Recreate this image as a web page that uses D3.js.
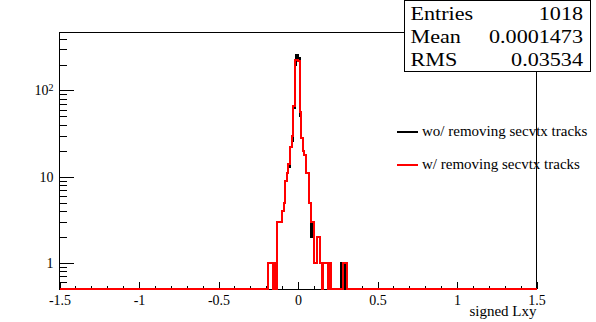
<!DOCTYPE html>
<html>
<head>
<meta charset="utf-8">
<script src="https://cdn.jsdelivr.net/npm/d3@7"></script>
<style>
  body { margin: 0; background: #fff; }
  svg { display: block; }
</style>
</head>
<body>
<svg id="chart" width="596" height="322"></svg>
<script>
// Histogram binning: 300 bins of width 0.01 over [-1.5, 1.5]
const xRange = [-1.5, 1.5];
const binWidth = 0.01;

// Lower edges of the populated region; every other bin is empty
const binLow = [
  -0.19, -0.18, -0.17, -0.16, -0.15, -0.14, -0.13, -0.12, -0.11, -0.10,
  -0.09, -0.08, -0.07, -0.06, -0.05, -0.04, -0.03, -0.02, -0.01, 0.00,
   0.01,  0.02,  0.03,  0.04,  0.05,  0.06,  0.07,  0.08,  0.09, 0.10,
   0.11,  0.12,  0.13,  0.14,  0.15,  0.16,  0.17,  0.18,  0.19, 0.20,
   0.21,  0.22,  0.23,  0.24,  0.25,  0.26,  0.27,  0.28,  0.29, 0.30
];

// Counts without removing secondary-vertex tracks
const countsWo = [
  1, 1, 1, 0, 1, 0, 3, 3, 3, 4,
  5, 9, 11, 13, 22, 26, 62, 200, 256, 236,
  50, 28, 20, 18, 11, 11, 5, 2, 3, 1,
  1, 2, 2, 1, 0, 1, 1, 1, 0, 1,
  0, 0, 0, 0, 0, 0, 1, 0, 1, 0
];

// Counts with secondary-vertex tracks removed
const countsW = [
  1, 1, 1, 0, 1, 0, 3, 3, 3, 4,
  5, 9, 11, 14, 22, 30, 66, 225, 225, 220,
  57, 28, 20, 18, 11, 11, 5, 3, 3, 1,
  1, 2, 2, 1, 0, 1, 1, 1, 0, 1,
  0, 0, 0, 0, 0, 0, 0, 1, 1, 1
];

const xTicks = [-1.5, -1, -0.5, 0, 0.5, 1, 1.5];
const xTickLabels = ["-1.5", "-1", "-0.5", "0", "0.5", "1", "1.5"];
const xMinorTicks = d3.range(-14, 15).map(i => i / 10).filter(v => Math.abs(v * 2 - Math.round(v * 2)) > 1e-9);
const yMajorTicks = [1, 10, 100];
const yMinorTicks = [0.6, 0.7, 0.8, 0.9, 2, 3, 4, 5, 6, 7, 8, 9, 20, 30, 40, 50, 60, 70, 80, 90, 200, 300, 400];
const yDomain = [0.5, 470];

const xTitle = "signed Lxy";
const seriesNames = ["wo/ removing secvtx tracks", "w/ removing secvtx tracks"];
const seriesColors = ["#000000", "#ff0000"];
const statNames = ["Entries", "Mean", "RMS"];
const statValues = ["1018", "0.0001473", "0.03534"];

const SERIF = "'Liberation Serif', 'Times New Roman', Times, serif";

const svg = d3.select("#chart");
const frame = { left: 59.5, right: 536.5, top: 32.5, bottom: 289 };

const x = d3.scaleLinear().domain(xRange).range([frame.left, frame.right]);
const y = d3.scaleLog().domain(yDomain).range([frame.bottom, frame.top]);

// Frame
svg.append("rect")
  .attr("x", frame.left).attr("y", frame.top)
  .attr("width", frame.right - frame.left).attr("height", frame.bottom - frame.top)
  .attr("fill", "none").attr("stroke", "#000").attr("stroke-width", 1)
  .attr("shape-rendering", "crispEdges");

// Axes: ticks pointing into the frame
function styleAxis(g, size) {
  g.select(".domain").remove();
  g.selectAll("line").attr("stroke", "#000").attr("shape-rendering", "crispEdges");
  g.attr("font-family", SERIF).attr("font-size", size);
  g.selectAll("text").attr("font-family", SERIF).attr("fill", "#000");
}

svg.append("g")
  .attr("transform", `translate(0,${frame.bottom})`)
  .call(d3.axisBottom(x).tickValues(xMinorTicks).tickSize(-3.5).tickFormat(""))
  .call(g => styleAxis(g, 14));

svg.append("g")
  .attr("transform", `translate(0,${frame.bottom})`)
  .call(d3.axisBottom(x).tickValues(xTicks).tickSize(-7).tickPadding(6)
    .tickFormat((d, i) => xTickLabels[i]))
  .call(g => styleAxis(g, 14));

// Y axis (log)
svg.append("g")
  .attr("transform", `translate(${frame.left},0)`)
  .call(d3.axisLeft(y).tickValues(yMinorTicks).tickSize(-7).tickFormat(""))
  .call(g => styleAxis(g, 14));

const yAxisG = svg.append("g")
  .attr("transform", `translate(${frame.left},0)`)
  .call(d3.axisLeft(y).tickValues(yMajorTicks).tickSize(-14).tickPadding(6)
    .tickFormat(d => d >= 100 ? "" : String(d)))
  .call(g => styleAxis(g, 14));

// 10^2 label with superscript
yAxisG.selectAll(".tick").filter(d => d >= 100).select("text")
  .each(function (d) {
    const t = d3.select(this);
    const p = Math.round(Math.log10(d));
    t.append("tspan").text("10");
    t.append("tspan").attr("dy", "-0.45em").attr("font-size", 10).text(String(p));
  });

// Histograms as step outlines
function fullCounts(counts) {
  const n = Math.round((xRange[1] - xRange[0]) / binWidth);
  const arr = new Array(n).fill(0);
  binLow.forEach((lo, i) => {
    const k = Math.round((lo - xRange[0]) / binWidth);
    arr[k] = counts[i];
  });
  return arr;
}

const stepLine = d3.line()
  .x(d => x(d[0]))
  .y(d => y(Math.max(d[1], yDomain[0])))
  .curve(d3.curveStepAfter);

[countsWo, countsW].forEach((counts, s) => {
  const arr = fullCounts(counts);
  const pts = arr.map((c, k) => [xRange[0] + k * binWidth, c]);
  pts.push([xRange[1], arr[arr.length - 1]]);
  svg.append("path")
    .datum(pts)
    .attr("d", stepLine)
    .attr("fill", "none")
    .attr("stroke", seriesColors[s])
    .attr("stroke-width", 2)
    .attr("shape-rendering", "crispEdges");
});

// X axis title
svg.append("text")
  .attr("x", frame.right).attr("y", 316)
  .attr("text-anchor", "end").attr("font-size", 15)
  .attr("font-family", SERIF)
  .text(xTitle);

// Legend
const legend = svg.append("g").attr("transform", "translate(397,0)");
seriesNames.forEach((name, i) => {
  const cy = 131.5 + i * 33;
  legend.append("line")
    .attr("x1", 0).attr("x2", 21).attr("y1", cy).attr("y2", cy)
    .attr("stroke", seriesColors[i]).attr("stroke-width", 2)
    .attr("shape-rendering", "crispEdges");
  legend.append("text")
    .attr("x", 25).attr("y", cy + 4.5)
    .attr("font-size", 15).attr("font-family", SERIF)
    .text(name);
});

// Statistics box
const stats = svg.append("g");
stats.append("rect")
  .attr("x", 404.5).attr("y", 0.5).attr("width", 186).attr("height", 70.5)
  .attr("fill", "#fff").attr("stroke", "#000").attr("stroke-width", 1)
  .attr("shape-rendering", "crispEdges");
statNames.forEach((name, i) => {
  const by = 19.5 + i * 23.3;
  stats.append("text")
    .attr("transform", `translate(410.5,${by}) scale(1.23,1)`)
    .attr("font-size", 18).attr("font-family", SERIF)
    .text(name);
  stats.append("text")
    .attr("transform", `translate(583,${by}) scale(1.23,1)`)
    .attr("font-size", 18).attr("font-family", SERIF).attr("text-anchor", "end")
    .text(statValues[i]);
});
</script>
</body>
</html>
